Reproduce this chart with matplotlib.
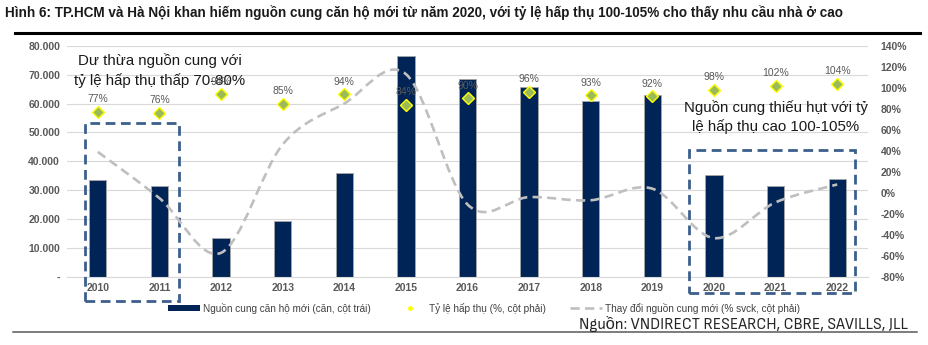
import matplotlib.pyplot as plt
from matplotlib import font_manager
from matplotlib.path import Path
from matplotlib.patches import PathPatch, Rectangle
from matplotlib.lines import Line2D
from matplotlib.ticker import FuncFormatter

plt.rcParams['font.family'] = ['Liberation Sans', 'DejaVu Sans']

# ── Dữ liệu ───────────────────────────────────────────────────
years = ['2010', '2011', '2012', '2013', '2014', '2015', '2016',
         '2017', '2018', '2019', '2020', '2021', '2022']
supply = [33400, 31600, 13400, 19500, 35900, 76400, 68500,
          65700, 61000, 63000, 35200, 31400, 33900]
absorption = [77, 76, 94, 85, 94, 84, 90, 96, 93, 92, 98, 102, 104]
supply_change = [39, -5, -57, 46, 85, 113, -11, -4, -7, 4, -43, -9, 8]

NAVY = '#002456'
GRAY_TXT = '#595959'
BOX = '#3c5f8c'

# font hẹp cho dòng nguồn, nếu có
installed = {f.name for f in font_manager.fontManager.ttflist}
narrow = [n for n in installed if 'Narrow' in n or 'Condensed' in n]
src_family = ([narrow[0]] if narrow else []) + ['Liberation Sans', 'DejaVu Sans']
src_size = 11.8 if narrow else 9.5

fig = plt.figure(figsize=(9.29, 3.45), dpi=100)
ax = fig.add_axes([67 / 929, 1 - 277 / 345, 801 / 929, 231.3 / 345])
ax2 = ax.twinx()

x = list(range(len(years)))

# cột nguồn cung
ax.bar(x, supply, width=0.28, color=NAVY, edgecolor='#a6a6a6',
       linewidth=0.6, zorder=2)
ax.set_xlim(-0.5, len(years) - 0.5)
ax.set_ylim(0, 80000)
ax.set_yticks(range(0, 80001, 10000))
ax.yaxis.set_major_formatter(FuncFormatter(
    lambda v, p: '-' if v == 0 else f'{int(v):,}'.replace(',', '.')))
ax.set_xticks(x)
ax.set_xticklabels(years)
ax.grid(axis='y', color='#d9d9d9', linewidth=0.8, zorder=0)
ax.set_axisbelow(True)

for a in (ax, ax2):
    for s in a.spines.values():
        s.set_visible(False)
    a.tick_params(length=0, labelsize=7.5, labelcolor=GRAY_TXT)
ax.spines['bottom'].set_visible(True)
ax.spines['bottom'].set_color('#d9d9d9')
ax.tick_params(axis='y', pad=5)
ax.tick_params(axis='x', pad=4)

ax2.set_ylim(-80, 140)
ax2.set_yticks(range(-80, 141, 20))
ax2.yaxis.set_major_formatter(FuncFormatter(lambda v, p: f'{int(v)}%'))
ax2.tick_params(axis='y', pad=9)
for lab in ax.get_xticklabels() + ax.get_yticklabels() + ax2.get_yticklabels():
    lab.set_fontweight('bold')

# đường thay đổi nguồn cung (làm mượt kiểu Excel bằng Bezier)
pts = list(zip(x, supply_change))
verts = [pts[0]]
codes = [Path.MOVETO]
for i in range(len(pts) - 1):
    p0 = pts[i - 1] if i > 0 else pts[i]
    p1 = pts[i]
    p2 = pts[i + 1]
    p3 = pts[i + 2] if i + 2 < len(pts) else pts[i + 1]
    c1 = (p1[0] + (p2[0] - p0[0]) / 6, p1[1] + (p2[1] - p0[1]) / 6)
    c2 = (p2[0] - (p3[0] - p1[0]) / 6, p2[1] - (p3[1] - p1[1]) / 6)
    verts += [c1, c2, p2]
    codes += [Path.CURVE4] * 3
ax2.add_patch(PathPatch(Path(verts, codes), fill=False, edgecolor='#bfbfbf',
                        linewidth=1.9, linestyle=(0, (3.5, 2)), zorder=3))

# tỷ lệ hấp thụ
ax2.plot(x, absorption, linestyle='none', marker='D', markersize=6,
         markerfacecolor='#9bbb59', markeredgecolor='#ffff00',
         markeredgewidth=1.0, zorder=4)
for xi, v in zip(x, absorption):
    ax2.annotate(f'{v}%', (xi, v), xytext=(0, 9), textcoords='offset points',
                 ha='center', va='center', fontsize=7.5, color=GRAY_TXT,
                 zorder=1)

# khung nét đứt
ax.add_patch(Rectangle((-0.21, -8200), 1.53, 61500, fill=False,
                       edgecolor=BOX, linewidth=2.0, linestyle=(0, (3.5, 2)),
                       clip_on=False, zorder=5))
ax.add_patch(Rectangle((9.60, -5440), 2.69, 49440, fill=False,
                       edgecolor=BOX, linewidth=2.0, linestyle=(0, (3.5, 2)),
                       clip_on=False, zorder=5))

ax.text(1.0, 71300, 'Dư thừa nguồn cung với\ntỷ lệ hấp thụ thấp 70-80%',
        ha='center', va='center', fontsize=10.8, color='#1a1a1a',
        linespacing=1.4, zorder=6)
ax.text(11.0, 55300, 'Nguồn cung thiếu hụt với tỷ\nlệ hấp thụ cao 100-105%',
        ha='center', va='center', fontsize=10.8, color='#1a1a1a',
        linespacing=1.4, zorder=6)

# tiêu đề
fig.text(5 / 929, 1 - 12.5 / 345,
         'Hình 6: TP.HCM và Hà Nội khan hiếm nguồn cung căn hộ mới từ năm 2020, '
         'với tỷ lệ hấp thụ 100-105% cho thấy nhu cầu nhà ở cao',
         ha='left', va='center', fontsize=9.75, fontweight='bold', color='#1a1a1a')
fig.add_artist(Line2D([15 / 929, 920 / 929], [1 - 32.5 / 345] * 2,
                      color='black', linewidth=2.2))
fig.add_artist(Line2D([13 / 929, 917 / 929], [1 - 332 / 345] * 2,
                      color='#595959', linewidth=1.1))

# chú thích
handles = [
    Rectangle((0, 0), 1, 1, facecolor=NAVY, edgecolor='none'),
    Line2D([], [], linestyle='none', marker='o', markersize=2.5,
           markerfacecolor='#ffff00', markeredgecolor='#ffff00'),
    Line2D([], [], color='#bfbfbf', linewidth=1.9, linestyle=(0, (3.5, 2))),
]
labels = ['Nguồn cung căn hộ mới (căn, cột trái)',
          'Tỷ lệ hấp thụ (%, cột phải)',
          'Thay đổi nguồn cung mới (% svck, cột phải)']
leg = fig.legend(handles, labels, loc='center', ncol=3,
                 bbox_to_anchor=(484 / 929, 1 - 308 / 345), frameon=False,
                 fontsize=7.2, handlelength=3.2, handleheight=0.45,
                 handletextpad=0.3, columnspacing=2.4)
for t in leg.get_texts():
    t.set_color('#404040')

fig.text(908 / 929, 1 - 323.5 / 345, 'Nguồn: VNDIRECT RESEARCH, CBRE, SAVILLS, JLL',
         ha='right', va='center', fontsize=src_size,
         family=src_family, color='#262626')

plt.savefig('out.png', dpi=100)
